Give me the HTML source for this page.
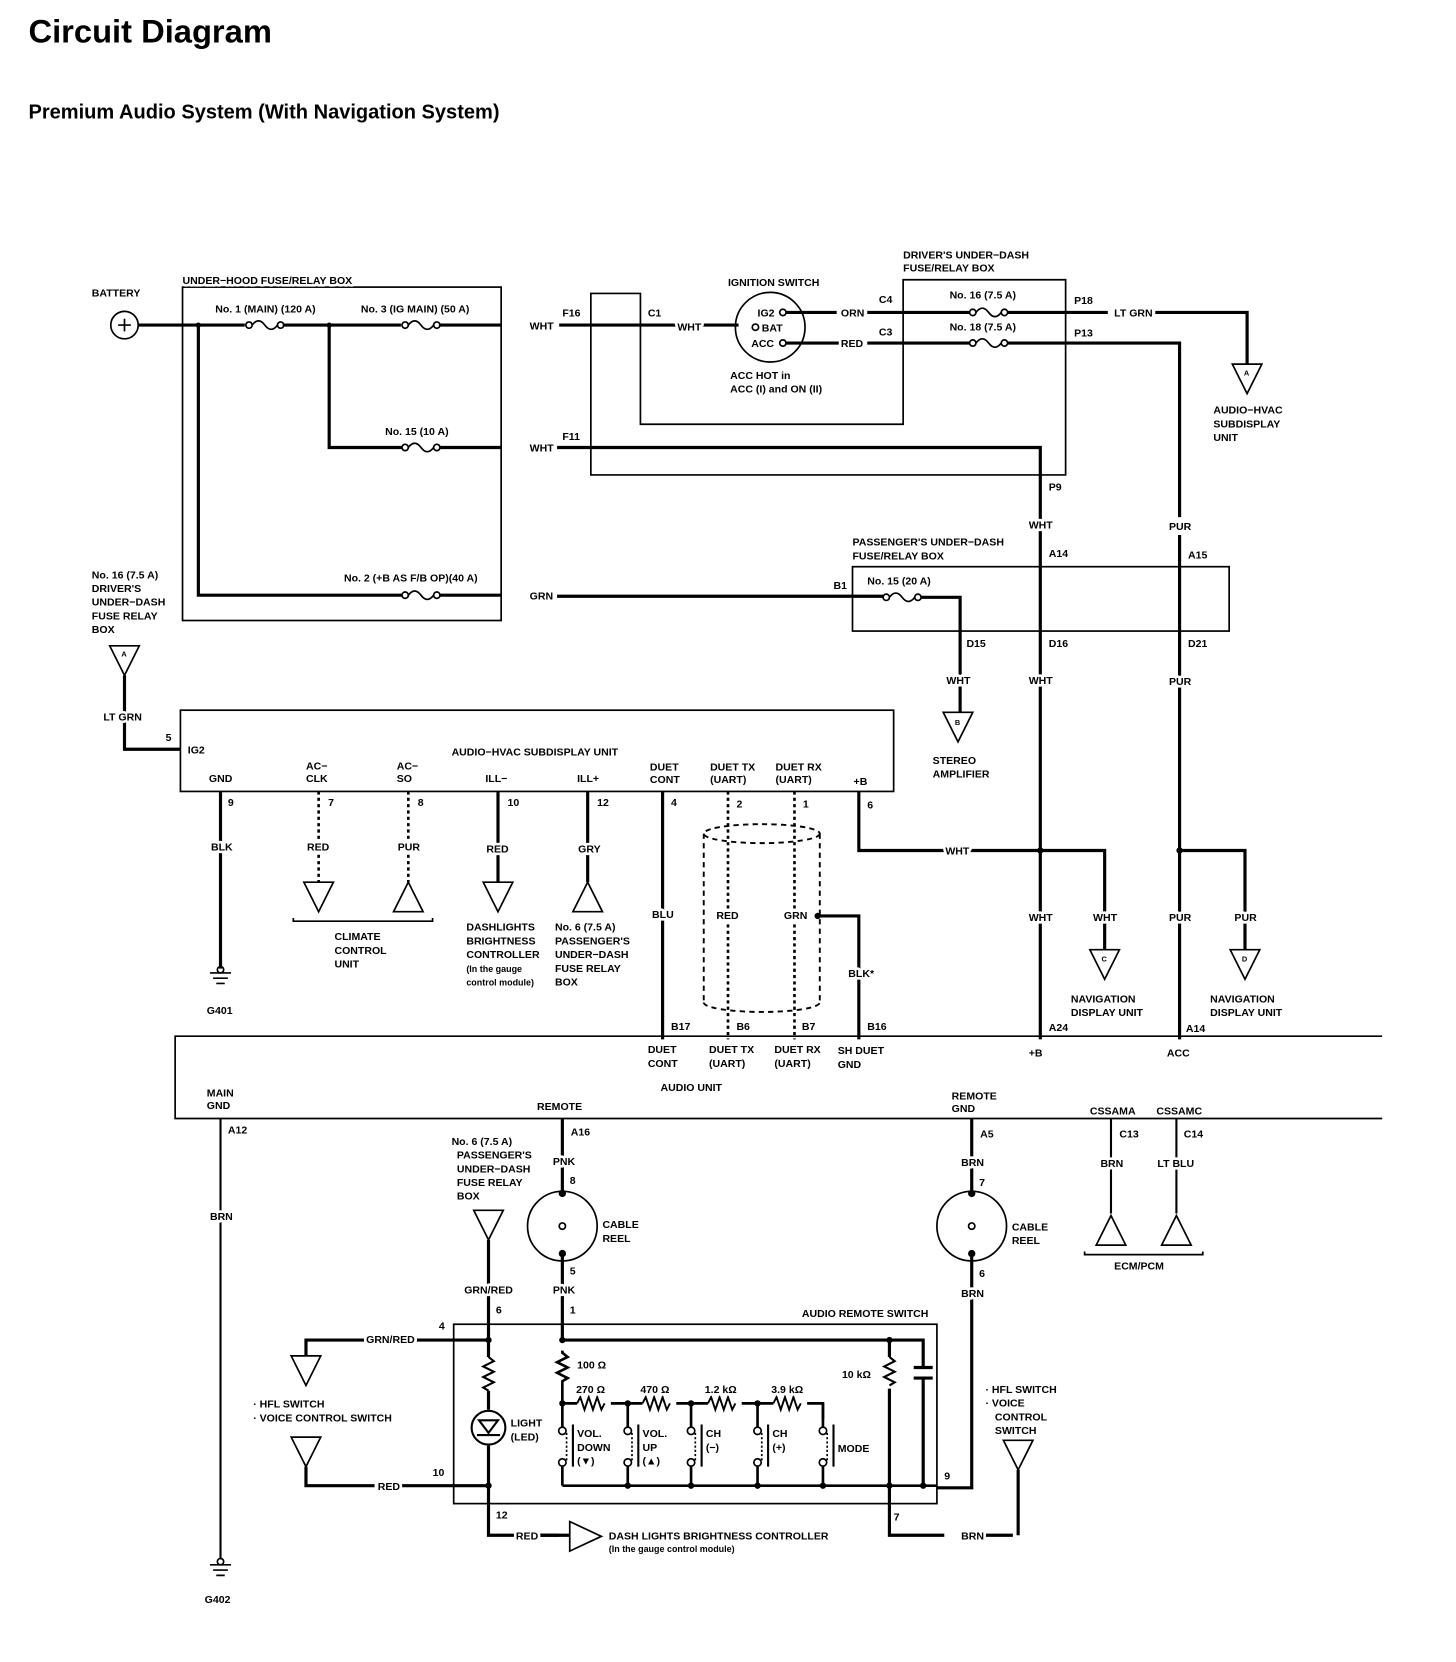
<!DOCTYPE html>
<html><head><meta charset="utf-8"><style>
html,body{margin:0;padding:0;background:#fff;}
svg{display:block;}
text{font-family:"Liberation Sans Narrow","Liberation Sans",sans-serif;font-weight:bold;font-size:10px;fill:#000;stroke:#fff;stroke-width:5px;paint-order:stroke;stroke-linejoin:round;}
.w{stroke:#000;stroke-width:3;fill:none;}
.t{stroke:#000;stroke-width:1.6;fill:none;}
.d{stroke:#000;stroke-width:2.5;fill:none;stroke-dasharray:3,3;}
.c{stroke:#000;stroke-width:1.8;fill:none;stroke-dasharray:5,4;}
</style></head><body>
<svg width="1456" height="1662" viewBox="0 0 1380 1575" xmlns="http://www.w3.org/2000/svg">
<text x="27" y="40" style="font-family:'Liberation Sans',sans-serif;font-size:31px;font-weight:bold">Circuit Diagram</text>
<text x="27" y="112" style="font-family:'Liberation Sans',sans-serif;font-size:19px;font-weight:bold">Premium Audio System (With Navigation System)</text>

<rect x="173" y="272" width="302" height="316" class="t"/>
<text x="173" y="269">UNDER−HOOD FUSE/RELAY BOX</text>
<text x="87" y="281">BATTERY</text>
<circle cx="118" cy="308" r="13" class="t"/>
<path d="M112 308h12M118 302v12" class="t"/>
<path d="M131 308H232M268 308H380M416 308H475M530 308H700" class="w"/>
<text x="502" y="312">WHT</text>
<text x="533" y="300">F16</text><text x="614" y="300">C1</text><text x="642" y="313">WHT</text>
<g class="t">
<circle cx="236" cy="308" r="3"/><path d="M239 308q6-8 12 0t12 0"/><circle cx="266" cy="308" r="3"/>
<circle cx="384" cy="308" r="3"/><path d="M387 308q6-8 12 0t12 0"/><circle cx="414" cy="308" r="3"/>
<circle cx="384" cy="424" r="3"/><path d="M387 424q6-8 12 0t12 0"/><circle cx="414" cy="424" r="3"/>
<circle cx="384" cy="564" r="3"/><path d="M387 564q6-8 12 0t12 0"/><circle cx="414" cy="564" r="3"/>
<circle cx="922" cy="296" r="3"/><path d="M925 296q6-8 12 0t12 0"/><circle cx="952" cy="296" r="3"/>
<circle cx="922" cy="325" r="3"/><path d="M925 325q6-8 12 0t12 0"/><circle cx="952" cy="325" r="3"/>
<circle cx="840" cy="566" r="3"/><path d="M843 566q6-8 12 0t12 0"/><circle cx="870" cy="566" r="3"/>
</g>
<text x="204" y="296">No. 1 (MAIN) (120 A)</text>
<text x="342" y="296">No. 3 (IG MAIN) (50 A)</text>
<text x="365" y="412">No. 15 (10 A)</text>
<text x="326" y="551">No. 2 (+B AS F/B OP)(40 A)</text>
<circle cx="188" cy="308" r="2.5"/><circle cx="312" cy="308" r="2.5"/>
<path d="M188 308V564H381M417 564H475M528 565H837M873 566H910V675" class="w"/>
<path d="M312 308V424H381M417 424H475M528 424H986V985" class="w"/>
<text x="502" y="428">WHT</text><text x="533" y="417">F11</text>
<text x="502" y="568">GRN</text><text x="790" y="558">B1</text>
<path d="M560 278H607V402H856V265H1010V450H560Z" class="t"/>
<text x="856" y="245">DRIVER'S UNDER−DASH</text><text x="856" y="257">FUSE/RELAY BOX</text>
<circle cx="730" cy="310" r="33" class="t"/>
<text x="690" y="271">IGNITION SWITCH</text>
<path d="M745 296H793M822 296H919M955 296H1050M1095 296H1182V345" class="w"/>
<path d="M745 325H795M822 325H919M955 325H1118V490M1118 507V985" class="w"/>
<text x="718" y="300">IG2</text><text x="722" y="314">BAT</text><text x="712" y="329">ACC</text>
<circle cx="742" cy="296" r="3" class="t" fill="#fff"/><circle cx="716" cy="310" r="3" class="t"/><circle cx="742" cy="325" r="3" class="t" fill="#fff"/>
<text x="692" y="359">ACC HOT in</text><text x="692" y="372">ACC (I) and ON (II)</text>
<text x="797" y="300">ORN</text><text x="797" y="329">RED</text>
<text x="833" y="287">C4</text><text x="833" y="318">C3</text>
<text x="900" y="283">No. 16 (7.5 A)</text><text x="900" y="313">No. 18 (7.5 A)</text>
<text x="1018" y="288">P18</text><text x="1018" y="319">P13</text>
<text x="1056" y="300">LT GRN</text>
<path d="M1168 345h28l-14 28z" class="t"/><text x="1179" y="356" style="font-size:7px">A</text>
<text x="1150" y="392">AUDIO−HVAC</text><text x="1150" y="405">SUBDISPLAY</text><text x="1150" y="418">UNIT</text>
<text x="994" y="465">P9</text>
<text x="975" y="501">WHT</text><text x="1108" y="502">PUR</text>
<rect x="808" y="537" width="357" height="61" class="t"/>
<text x="808" y="517">PASSENGER'S UNDER−DASH</text><text x="808" y="530">FUSE/RELAY BOX</text>
<text x="994" y="528">A14</text><text x="1126" y="529">A15</text>
<text x="822" y="554">No. 15 (20 A)</text>
<text x="916" y="613">D15</text><text x="994" y="613">D16</text><text x="1126" y="613">D21</text>
<text x="897" y="648">WHT</text><text x="975" y="648">WHT</text><text x="1108" y="649">PUR</text>
<path d="M894 675h28l-14 28z" class="t"/><text x="905" y="687" style="font-size:7px">B</text>
<text x="884" y="724">STEREO</text><text x="884" y="737">AMPLIFIER</text>
<text x="87" y="548">No. 16 (7.5 A)</text><text x="87" y="561">DRIVER'S</text><text x="87" y="574">UNDER−DASH</text><text x="87" y="587">FUSE RELAY</text><text x="87" y="600">BOX</text>
<path d="M104 612h28l-14 28z" class="t"/><text x="115" y="622" style="font-size:7px">A</text>
<path d="M118 640V710H171" class="w"/><text x="157" y="702">5</text>
<text x="98" y="683">LT GRN</text>
<rect x="171" y="673" width="676" height="77" class="t"/>
<text x="178" y="714">IG2</text>
<text x="428" y="716">AUDIO−HVAC SUBDISPLAY UNIT</text>
<text x="198" y="741">GND</text>
<text x="290" y="729">AC−</text><text x="290" y="741">CLK</text>
<text x="376" y="729">AC−</text><text x="376" y="741">SO</text>
<text x="460" y="741">ILL−</text><text x="547" y="741">ILL+</text>
<text x="616" y="730">DUET</text><text x="616" y="742">CONT</text>
<text x="673" y="730">DUET TX</text><text x="673" y="742">(UART)</text>
<text x="735" y="730">DUET RX</text><text x="735" y="742">(UART)</text>
<text x="809" y="744">+B</text>
<text x="216" y="764">9</text><text x="311" y="764">7</text><text x="396" y="764">8</text><text x="481" y="764">10</text><text x="566" y="764">12</text><text x="636" y="764">4</text><text x="698" y="765">2</text><text x="761" y="765">1</text><text x="822" y="766">6</text>
<path d="M209 750V918" class="w"/><text x="200" y="806">BLK</text>
<path d="M199 922h20M202 927h14M205 932h8" class="t"/><circle cx="209" cy="919" r="3" class="t"/>
<text x="196" y="961">G401</text>
<path d="M302 750V836M387 750V836" class="d"/>
<text x="291" y="806">RED</text><text x="377" y="806">PUR</text>
<path d="M288 836h28l-14 28z" class="t"/><path d="M373 864h28l-14-28z" class="t"/>
<path d="M278 870v3H410v-3" class="t"/>
<text x="317" y="891">CLIMATE</text><text x="317" y="904">CONTROL</text><text x="317" y="917">UNIT</text>
<path d="M472 750V836M557 750V836M628 750V985" class="w"/>
<text x="461" y="808">RED</text><text x="548" y="808">GRY</text>
<path d="M458 836h28l-14 28z" class="t"/><path d="M543 864h28l-14-28z" class="t"/>
<text x="442" y="882">DASHLIGHTS</text><text x="442" y="895">BRIGHTNESS</text><text x="442" y="908">CONTROLLER</text><text x="442" y="921" style="font-size:8.5px">(In the gauge</text><text x="442" y="934" style="font-size:8.5px">control module)</text>
<text x="526" y="882">No. 6 (7.5 A)</text><text x="526" y="895">PASSENGER'S</text><text x="526" y="908">UNDER−DASH</text><text x="526" y="921">FUSE RELAY</text><text x="526" y="934">BOX</text>
<text x="618" y="870">BLU</text>
<path d="M690 750V985M753 750V985" class="d"/>
<path d="M667 790V950M777 790V950" class="c"/>
<ellipse cx="722" cy="790" rx="55" ry="9" class="c"/>
<path d="M667 950a55 9 0 0 0 110 0" class="c"/>
<path d="M775 868H814V985" class="w"/><circle cx="775" cy="868" r="3"/>
<text x="679" y="871">RED</text><text x="743" y="871">GRN</text>
<text x="804" y="926">BLK*</text>
<path d="M814 750V806H895M920 806H1047V900M1118 806H1180V900" class="w"/>
<circle cx="986" cy="806" r="3"/><circle cx="1118" cy="806" r="3"/>
<text x="896" y="810">WHT</text>
<text x="975" y="873">WHT</text><text x="1036" y="873">WHT</text><text x="1108" y="873">PUR</text><text x="1170" y="873">PUR</text>
<path d="M1033 900h28l-14 28z" class="t"/><text x="1044" y="911" style="font-size:7px">C</text>
<path d="M1166 900h28l-14 28z" class="t"/><text x="1177" y="911" style="font-size:7px">D</text>
<text x="1015" y="950">NAVIGATION</text><text x="1015" y="963">DISPLAY UNIT</text>
<text x="1147" y="950">NAVIGATION</text><text x="1147" y="963">DISPLAY UNIT</text>
<text x="636" y="976">B17</text><text x="698" y="976">B6</text><text x="760" y="976">B7</text><text x="822" y="976">B16</text>
<text x="994" y="977">A24</text><text x="1124" y="978">A14</text>
<path d="M1310 982H166V1060H1310" class="t"/>
<text x="614" y="998">DUET</text><text x="614" y="1011">CONT</text>
<text x="672" y="998">DUET TX</text><text x="672" y="1011">(UART)</text>
<text x="734" y="998">DUET RX</text><text x="734" y="1011">(UART)</text>
<text x="794" y="999">SH DUET</text><text x="794" y="1012">GND</text>
<text x="975" y="1001">+B</text><text x="1106" y="1001">ACC</text>
<text x="626" y="1034">AUDIO UNIT</text>
<text x="196" y="1039">MAIN</text><text x="196" y="1051">GND</text>
<text x="509" y="1052">REMOTE</text>
<text x="902" y="1042">REMOTE</text><text x="902" y="1054">GND</text>
<text x="1033" y="1056">CSSAMA</text><text x="1096" y="1056">CSSAMC</text>
<path d="M209 1060V1478" class="t" style="stroke-width:2"/>
<text x="216" y="1074">A12</text><text x="199" y="1156">BRN</text>
<path d="M199 1483h20M202 1488h14M205 1493h8" class="t"/><circle cx="209" cy="1480" r="3" class="t"/>
<text x="194" y="1519">G402</text>
<path d="M533 1060V1132M533 1188V1270" class="w"/>
<text x="541" y="1076">A16</text><text x="524" y="1104">PNK</text><text x="540" y="1122">8</text>
<circle cx="533" cy="1162" r="33" class="t"/><circle cx="533" cy="1162" r="3" class="t"/>
<circle cx="533" cy="1131" r="3.5"/><circle cx="533" cy="1188" r="3.5"/>
<text x="571" y="1164">CABLE</text><text x="571" y="1177">REEL</text>
<text x="540" y="1208">5</text><text x="524" y="1226">PNK</text><text x="540" y="1245">1</text>
<path d="M921 1060V1132M921 1188V1410H888" class="w"/>
<text x="929" y="1078">A5</text><text x="911" y="1105">BRN</text><text x="928" y="1124">7</text>
<circle cx="921" cy="1162" r="33" class="t"/><circle cx="921" cy="1162" r="3" class="t"/>
<circle cx="921" cy="1131" r="3.5"/><circle cx="921" cy="1188" r="3.5"/>
<text x="959" y="1166">CABLE</text><text x="959" y="1179">REEL</text>
<text x="928" y="1210">6</text><text x="911" y="1229">BRN</text><text x="895" y="1402">9</text>
<path d="M1053 1060V1150M1115 1060V1150" class="t" style="stroke-width:2"/>
<text x="1061" y="1078">C13</text><text x="1122" y="1078">C14</text>
<text x="1043" y="1106">BRN</text><text x="1097" y="1106">LT BLU</text>
<path d="M1039 1180h28l-14-28z" class="t"/><path d="M1101 1180h28l-14-28z" class="t"/>
<path d="M1028 1186v3H1140v-3" class="t"/><text x="1056" y="1203">ECM/PCM</text>
<text x="428" y="1085">No. 6 (7.5 A)</text><text x="433" y="1098">PASSENGER'S</text><text x="433" y="1111">UNDER−DASH</text><text x="433" y="1124">FUSE RELAY</text><text x="433" y="1137">BOX</text>
<path d="M449 1147h28l-14 28z" class="t"/>
<path d="M463 1175V1286M463 1318V1336M463 1370V1455H530" class="w"/>
<text x="440" y="1226">GRN/RED</text><text x="470" y="1245">6</text>
<rect x="430" y="1255" width="458" height="170" class="t"/>
<text x="760" y="1248">AUDIO REMOTE SWITCH</text>
<path d="M463 1270H395M345 1270H290V1285" class="w"/>
<text x="347" y="1273">GRN/RED</text><text x="416" y="1260">4</text>
<path d="M276 1285h28l-14 28z" class="t"/>
<text x="240" y="1334">· HFL SWITCH</text><text x="240" y="1347">· VOICE CONTROL SWITCH</text>
<path d="M276 1362h28l-14 28z" class="t"/>
<path d="M290 1390V1408H355M380 1408H463" class="w"/>
<text x="358" y="1412">RED</text><text x="410" y="1399">10</text>
<circle cx="463" cy="1270" r="3"/><circle cx="463" cy="1408" r="3"/>
<path d="M463 1286l5 4-10 5 10 5-10 5 10 5-10 5 5 3" class="t" style="stroke-width:2"/>
<circle cx="463" cy="1353" r="16" class="t" style="stroke-width:2"/>
<path d="M454 1346h18l-9 12z M452 1360h22" class="t" style="stroke-width:2"/>
<text x="484" y="1352">LIGHT</text><text x="484" y="1365">(LED)</text>
<text x="470" y="1439">12</text>
<path d="M512 1455H540" class="w"/>
<text x="489" y="1459">RED</text>
<path d="M540 1442v28l30-14z" class="t"/>
<text x="577" y="1459">DASH LIGHTS BRIGHTNESS CONTROLLER</text>
<text x="577" y="1471" style="font-size:8.5px">(In the gauge control module)</text>
<path d="M533 1270H875V1296M875 1306V1410M843 1270V1286M843 1316V1455H895M920 1455H960" class="w"/>
<text x="911" y="1459">BRN</text><text x="847" y="1441">7</text>
<path d="M866 1296h18M866 1306h18" class="t" style="stroke-width:3"/>
<path d="M843 1286l5 4-10 5 10 5-10 5 10 5-5 3" class="t" style="stroke-width:2"/>
<text x="798" y="1306">10 kΩ</text>
<circle cx="533" cy="1270" r="3"/><circle cx="843" cy="1270" r="3"/>
<path d="M533 1280v2l5 4-10 5 10 5-10 5 10 5-5 3v21H547M579 1330H609M641 1330H671M703 1330H733M765 1330H780V1345" class="w" style="stroke-width:2.5"/>
<path d="M547 1330l3-6 4 12 4-12 4 12 4-12 4 12 3-6M609 1330l3-6 4 12 4-12 4 12 4-12 4 12 3-6M671 1330l3-6 4 12 4-12 4 12 4-12 4 12 3-6M733 1330l3-6 4 12 4-12 4 12 4-12 4 12 3-6" class="t" style="stroke-width:1.8"/>
<text x="547" y="1297">100 Ω</text><text x="546" y="1320">270 Ω</text><text x="607" y="1320">470 Ω</text><text x="668" y="1320">1.2 kΩ</text><text x="731" y="1320">3.9 kΩ</text>
<g class="w" style="stroke-width:2.5">
<path d="M533 1330V1352M595 1330V1352M655 1330V1352M718 1330V1352M780 1330V1352"/>
<path d="M533 1390V1408M595 1390V1408M655 1390V1408M718 1390V1408M780 1390V1408"/>
<path d="M533 1408H888"/>
</g>
<g class="t">
<circle cx="533" cy="1356" r="3.5"/><circle cx="533" cy="1386" r="3.5"/>
<circle cx="595" cy="1356" r="3.5"/><circle cx="595" cy="1386" r="3.5"/>
<circle cx="655" cy="1356" r="3.5"/><circle cx="655" cy="1386" r="3.5"/>
<circle cx="718" cy="1356" r="3.5"/><circle cx="718" cy="1386" r="3.5"/>
<circle cx="780" cy="1356" r="3.5"/><circle cx="780" cy="1386" r="3.5"/>
<path d="M543 1350v40M605 1350v40M665 1350v40M728 1350v40M790 1350v40" style="stroke-width:2"/>
<path d="M537 1358v26M599 1358v26M659 1358v26M722 1358v26M784 1358v26" stroke-dasharray="2,2"/>
</g>
<circle cx="533" cy="1330" r="3"/><circle cx="595" cy="1330" r="3"/><circle cx="655" cy="1330" r="3"/><circle cx="718" cy="1330" r="3"/>
<circle cx="595" cy="1408" r="3"/><circle cx="655" cy="1408" r="3"/><circle cx="718" cy="1408" r="3"/><circle cx="780" cy="1408" r="3"/><circle cx="843" cy="1408" r="3"/><circle cx="875" cy="1408" r="3"/>
<text x="547" y="1362">VOL.</text><text x="547" y="1375">DOWN</text><text x="547" y="1388">(▼)</text>
<text x="609" y="1362">VOL.</text><text x="609" y="1375">UP</text><text x="609" y="1388">(▲)</text>
<text x="669" y="1362">CH</text><text x="669" y="1375">(−)</text>
<text x="732" y="1362">CH</text><text x="732" y="1375">(+)</text>
<text x="794" y="1376">MODE</text>
<text x="934" y="1320">· HFL SWITCH</text><text x="934" y="1333">· VOICE</text><text x="943" y="1346">CONTROL</text><text x="943" y="1359">SWITCH</text>
<path d="M951 1365h28l-14 28z" class="t"/>
<path d="M965 1393V1455" class="w"/>
</svg>
</body></html>
